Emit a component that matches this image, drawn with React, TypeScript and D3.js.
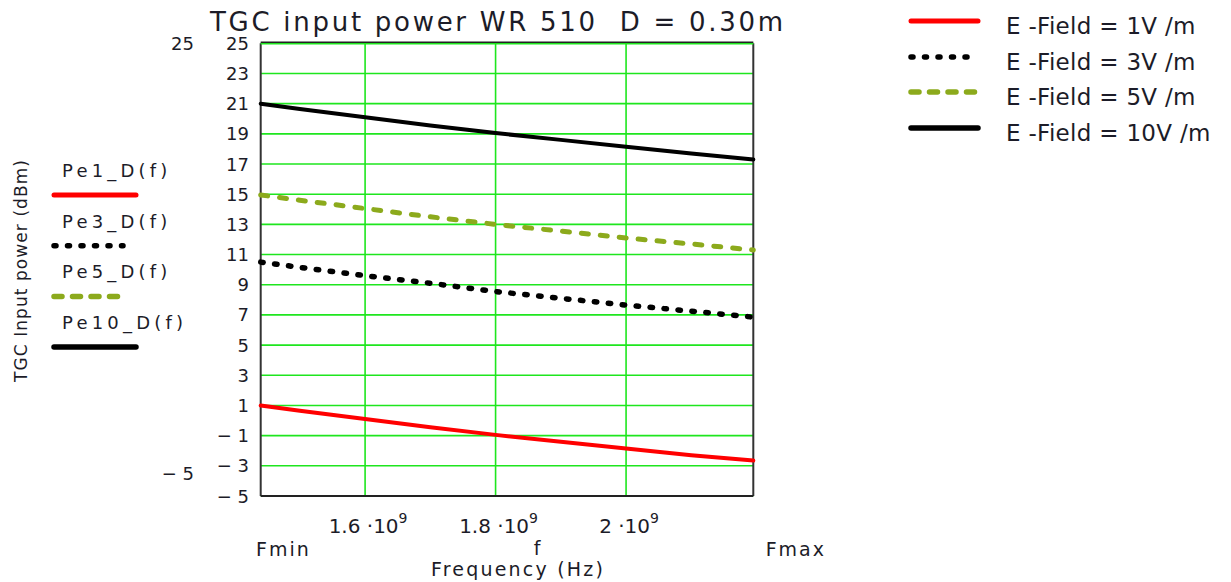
import React from 'react';
import * as d3 from 'd3';

// Frequency sweep across the WR 510 band (Hz)
const freqHz = [1.44e9, 1.5e9, 1.6e9, 1.7e9, 1.8e9, 1.9e9, 2.0e9, 2.1e9, 2.195e9];
// TGC input power (dBm) for each field strength
const pe1 = [1.0, 0.65, 0.1, -0.45, -0.95, -1.4, -1.85, -2.3, -2.65];
const pe3 = [10.5, 10.15, 9.6, 9.1, 8.55, 8.1, 7.65, 7.25, 6.85];
const pe5 = [14.95, 14.6, 14.05, 13.5, 13.0, 12.55, 12.1, 11.7, 11.3];
const pe10 = [21.0, 20.65, 20.1, 19.55, 19.05, 18.6, 18.15, 17.7, 17.3];

const fMin = 1.44e9;
const fMax = 2.195e9;
const yMin = -5;
const yMax = 25;
const yTicks = [25, 23, 21, 19, 17, 15, 13, 11, 9, 7, 5, 3, 1, -1, -3, -5];
const xTicks = [1.6e9, 1.8e9, 2.0e9];
const xTickMantissa = ['1.6', '1.8', '2'];
const seriesNames = ['Pe1_D(f)', 'Pe3_D(f)', 'Pe5_D(f)', 'Pe10_D(f)'];
const legendLabels = ['E -Field = 1V /m', 'E -Field = 3V /m', 'E -Field = 5V /m', 'E -Field = 10V /m'];

const FONT = '"DejaVu Sans", Verdana, sans-serif';
const TEXT = '#1c1c28';
const GRID = '#1ee61e';

type Style = { color: string; width: number; dash?: string; cap: 'round' | 'butt' };
const styles: Style[] = [
  { color: '#ff0000', width: 4, cap: 'round' },
  { color: '#000000', width: 5.5, dash: '2.5 11.5', cap: 'round' },
  { color: '#8caa1c', width: 5, dash: '7 12', cap: 'round' },
  { color: '#000000', width: 4, cap: 'round' },
];
const legendStyles: Style[] = [
  { color: '#ff0000', width: 5, cap: 'round' },
  { color: '#000000', width: 5.5, dash: '2 11.5', cap: 'round' },
  { color: '#8caa1c', width: 5.5, dash: '8 10.5', cap: 'round' },
  { color: '#000000', width: 5.5, cap: 'round' },
];

const left = 260.7;
const right = 753.3;
const top = 43.3;
const bottom = 496;

export default function App() {
  const x = d3.scaleLinear().domain([fMin, fMax]).range([left, right]);
  const y = d3.scaleLinear().domain([yMin, yMax]).range([bottom, top]);
  const series = [pe1, pe3, pe5, pe10];
  const line = d3
    .line<number>()
    .x((_, i) => x(freqHz[i]))
    .y((d) => y(d));

  const fmtY = (v: number) => (v < 0 ? `\u2212 ${Math.abs(v)}` : `${v}`);

  return (
    <svg
      width={1231}
      height={582}
      style={{ position: 'absolute', left: 0, top: 0, background: '#fff' }}
      fontFamily={FONT}
    >
      <rect width={1231} height={582} fill="#fff" />

      {/* title */}
      <text x={210} y={31} fontSize={26} fill={TEXT} textLength={573} lengthAdjust="spacing" style={{ whiteSpace: 'pre' }}>
        {'TGC input power WR 510  D = 0.30m'}
      </text>

      {/* grid */}
      {yTicks.map((t) => (
        <line key={'gy' + t} x1={left} x2={right} y1={y(t)} y2={y(t)} stroke={GRID} strokeWidth={1.6} />
      ))}
      {xTicks.map((t) => (
        <line key={'gx' + t} x1={x(t)} x2={x(t)} y1={top} y2={bottom} stroke={GRID} strokeWidth={1.6} />
      ))}

      {/* frame */}
      <line x1={left} x2={left} y1={top} y2={bottom} stroke="#333" strokeWidth={2} />
      <line x1={right} x2={right} y1={top} y2={bottom} stroke="#333" strokeWidth={2} />
      <line x1={left} x2={right} y1={bottom} y2={bottom} stroke="#222" strokeWidth={2} />
      <line x1={left} x2={right} y1={top - 1} y2={top - 1} stroke="#222" strokeWidth={1.5} />
      <line x1={left} x2={right} y1={top + 0.5} y2={top + 0.5} stroke={GRID} strokeWidth={1.6} />

      {/* series */}
      <g>
        {series.map((s, i) => (
          <path
            key={'s' + i}
            d={line(s) || ''}
            fill="none"
            stroke={styles[i].color}
            strokeWidth={styles[i].width}
            strokeDasharray={styles[i].dash}
            strokeLinecap={styles[i].cap}
            strokeLinejoin="round"
          />
        ))}
      </g>

      {/* y tick labels */}
      {yTicks.map((t) => (
        <text key={'ty' + t} x={249} y={y(t) + 6.5} fontSize={18} textAnchor="end" fill={TEXT} style={{ whiteSpace: 'pre' }}>
          {fmtY(t)}
        </text>
      ))}
      {/* axis limit labels */}
      <text x={194} y={49.5} fontSize={18} textAnchor="end" fill={TEXT}>{yMax}</text>
      <text x={194} y={479.5} fontSize={18} textAnchor="end" fill={TEXT} style={{ whiteSpace: 'pre' }}>{fmtY(yMin)}</text>

      {/* x tick labels */}
      {xTicks.map((t, i) => (
        <text key={'tx' + t} x={x(t) + 3} y={533} fontSize={20} textAnchor="middle" fill={TEXT} style={{ whiteSpace: 'pre' }}>
          {xTickMantissa[i] + ' \u00b710'}
          <tspan dy={-10} fontSize={14}>9</tspan>
        </text>
      ))}
      <text x={256} y={556} fontSize={19} fill={TEXT} letterSpacing={2}>Fmin</text>
      <text x={537} y={555} fontSize={19} fill={TEXT} textAnchor="middle">f</text>
      <text x={826} y={556} fontSize={19} fill={TEXT} textAnchor="end" letterSpacing={2}>Fmax</text>
      <text x={518} y={576} fontSize={19} fill={TEXT} textAnchor="middle" letterSpacing={2.2}>Frequency (Hz)</text>

      {/* y axis title */}
      <text
        transform="translate(27,271) rotate(-90)"
        fontSize={17}
        fill={TEXT}
        textAnchor="middle"
        textLength={222}
        lengthAdjust="spacing"
      >
        TGC Input power (dBm)
      </text>

      {/* left legend: trace names */}
      {seriesNames.map((n, i) => {
        const ty = 177 + i * 50.5;
        const ly = 195 + i * 50.7;
        const st = legendStyles[i];
        const x2 = i === 1 ? 123 : i === 2 ? 128 : 136;
        return (
          <g key={'ll' + i}>
            <text x={62} y={ty} fontSize={18} fill={TEXT} letterSpacing={4.2}>{n}</text>
            <line
              x1={54}
              x2={x2}
              y1={ly}
              y2={ly}
              stroke={st.color}
              strokeWidth={st.width}
              strokeDasharray={st.dash}
              strokeLinecap={st.cap}
            />
          </g>
        );
      })}

      {/* right legend */}
      {legendLabels.map((n, i) => {
        const ly = [21, 57, 92, 128][i];
        const st = legendStyles[i];
        return (
          <g key={'rl' + i}>
            <line
              x1={911}
              x2={978}
              y1={ly}
              y2={ly}
              stroke={st.color}
              strokeWidth={st.width}
              strokeDasharray={st.dash}
              strokeLinecap={st.cap}
            />
            <text x={1006} y={ly + 13} fontSize={23} fill={TEXT} letterSpacing={0.3} style={{ whiteSpace: 'pre' }}>{n}</text>
          </g>
        );
      })}
    </svg>
  );
}
